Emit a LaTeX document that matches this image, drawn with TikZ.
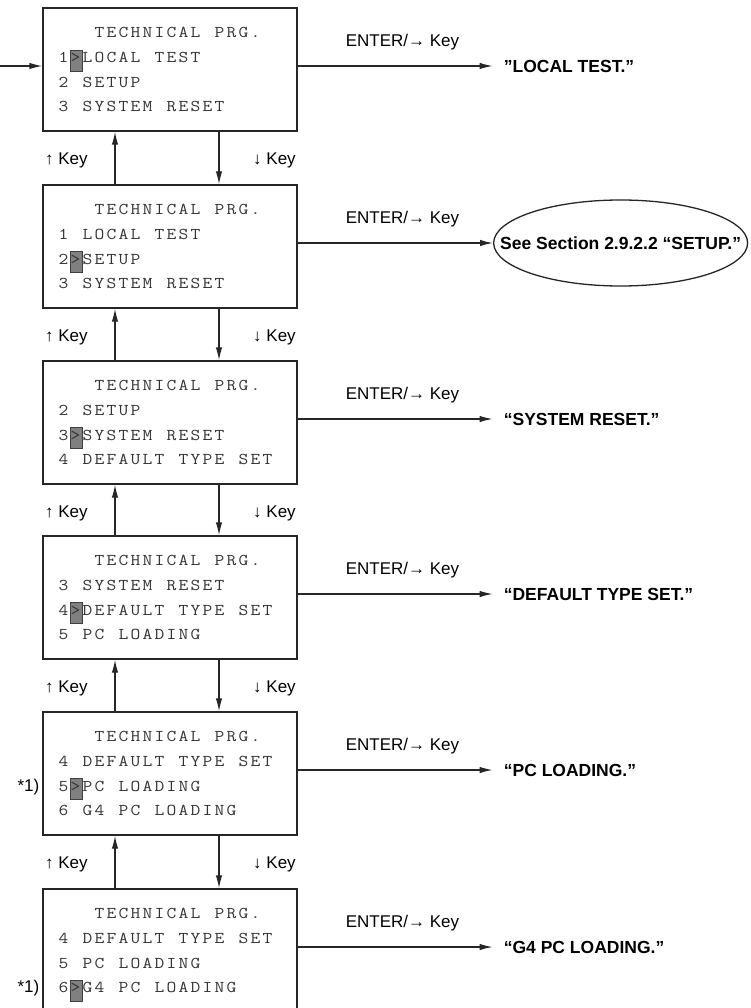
\documentclass[tikz,border=0pt]{standalone}
\usepackage{fontspec}
\setmainfont{Liberation Sans}
\usetikzlibrary{arrows.meta,shapes.geometric}

% LCD text: every character sits in a fixed 12pt cell, slightly widened
\newcommand\lcdrow[1]{\lcdstep#1\relax}
\def\lcdstep#1{\ifx\relax#1\else\makebox[12pt][c]{\scalebox{1.15}[1]{#1}}\expandafter\lcdstep\fi}

\tikzset{
  line/.style={draw=black!85, line width=1.3pt},
  arr/.style={line, -{Latex[length=13pt,width=6.5pt]}},
  menubox/.style={line, rectangle, minimum width=254pt, minimum height=123pt, inner sep=0pt},
  lcd/.style={anchor=base west, inner sep=0pt,
    font=\ttfamily\fontsize{16.5}{17}\selectfont\addfontfeature{FakeBold=1.2}, text=black!80},
  cursor/.style={fill=black!50, draw=black!75, line width=0.6pt},
  keylbl/.style={anchor=base west, inner sep=0pt, font=\fontsize{17}{20}\selectfont},
  result/.style={anchor=west, inner sep=0pt, font=\bfseries\fontsize{17.5}{20}\selectfont},
}

% one menu screen: name, centre y, three menu rows, baseline offset of the cursor row
\newcommand\menuscreen[6]{%
  \node[menubox] (#1) at (170,#2) {};
  \path[cursor] ([shift={(27.5,#6-12.5)}]#1.north west) rectangle ([shift={(39.5,#6+8.5)}]#1.north west);
  \node[lcd] (#1t) at ([shift={(15,30)}]#1.north west) {\lcdrow{~~~TECHNICAL~PRG.}};
  \node[lcd] (#1a) at ([shift={(15,55)}]#1.north west) {\lcdrow{#3}};
  \node[lcd] (#1b) at ([shift={(15,79.7)}]#1.north west) {\lcdrow{#4}};
  \node[lcd] (#1c) at ([shift={(15,104.5)}]#1.north west) {\lcdrow{#5}};
}

\newcommand\enterkey{ENTER/→ Key}

\begin{document}
\begin{tikzpicture}[x=1pt,y=-1pt]
\useasboundingbox (0,0) rectangle (751,1008);
\clip (0,0) rectangle (751,1008);

% menu screens
\menuscreen{b1}{69.5}{1>LOCAL~TEST}{2~SETUP}{3~SYSTEM~RESET}{55}
\menuscreen{b2}{246.5}{1~LOCAL~TEST}{2>SETUP}{3~SYSTEM~RESET}{79.7}
\menuscreen{b3}{422.5}{2~SETUP}{3>SYSTEM~RESET}{4~DEFAULT~TYPE~SET}{79.7}
\menuscreen{b4}{597.5}{3~SYSTEM~RESET}{4>DEFAULT~TYPE~SET}{5~PC~LOADING}{79.7}
\menuscreen{b5}{773.5}{4~DEFAULT~TYPE~SET}{5>PC~LOADING}{6~G4~PC~LOADING}{79.7}
\menuscreen{b6}{950.5}{4~DEFAULT~TYPE~SET}{5~PC~LOADING}{6>G4~PC~LOADING}{104.5}

% entry into the first screen
\coordinate (entry) at (-5,66);
\draw[arr] (entry) -- (entry -| b1.west);

% up / down navigation between screens
\foreach \u/\l in {b1/b2, b2/b3, b3/b4, b4/b5, b5/b6}{
  \draw[arr] ([xshift=-55pt]\l.north) -- ([xshift=-55pt]\u.south);
  \draw[arr] ([xshift=49pt]\u.south) -- ([xshift=49pt]\l.north);
  \node[keylbl] (up\u) at ([shift={(-125,32.5)}]\u.south) {↑ Key};
  \node[keylbl] (dn\u) at ([shift={(83,32.5)}]\u.south) {↓ Key};
}

% ENTER key labels
\foreach \b in {b1,b2,b3,b4,b5,b6}{
  \node[keylbl] (k\b) at ([shift={(48,-22.8)}]\b.east) {\enterkey};
}

% results of ENTER
\node[result] (r1) at ([shift={(206,-3.5)}]b1.east) {\symbol{34}LOCAL TEST.\symbol{34}};
\node[line, ellipse, minimum width=254pt, minimum height=86pt, inner sep=0pt] (r2) at ([shift={(323,-3.5)}]b2.east) {};
\node[inner sep=0pt, font=\bfseries\fontsize{17.5}{20}\selectfont] (r2t) at (r2.center) {See Section 2.9.2.2 “SETUP.”};
\node[result] (r3) at ([shift={(206,-3.5)}]b3.east) {“SYSTEM RESET.”};
\node[result] (r4) at ([shift={(206,-3.5)}]b4.east) {“DEFAULT TYPE SET.”};
\node[result] (r5) at ([shift={(206,-3.5)}]b5.east) {“PC LOADING.”};
\node[result] (r6) at ([shift={(206,-3.5)}]b6.east) {“G4 PC LOADING.”};

\draw[arr] (r1.west -| b1.east) -- ([xshift=-11pt]r1.west);
\draw[arr] (r2.west -| b2.east) -- (r2.west);
\foreach \i in {3,4,5,6}{
  \draw[arr] (r\i.west -| b\i.east) -- ([xshift=-11pt]r\i.west);
}

% footnote marks
\node[keylbl] (n5) at ([shift={(-25,80)}]b5.north west) {*1)};
\node[keylbl] (n6) at ([shift={(-25,104.5)}]b6.north west) {*1)};
\end{tikzpicture}
\end{document}
